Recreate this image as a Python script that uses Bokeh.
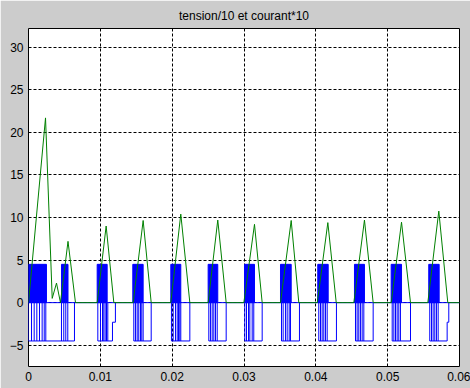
from bokeh.plotting import figure
from bokeh.models import Range1d, FixedTicker
from bokeh.embed import file_html
from bokeh.resources import INLINE

# Voltage / 10 (green): piecewise-linear through the turning points
green_t = [0, 0.00237, 0.0033, 0.0039, 0.00445, 0.0055, 0.00654,
           0.00956, 0.01081, 0.01188, 0.01457, 0.01596, 0.01708,
           0.01981, 0.0212, 0.02246, 0.02501, 0.02635, 0.02752,
           0.02998, 0.03146, 0.03253, 0.03508, 0.03657, 0.03763,
           0.0402, 0.04167, 0.04284, 0.04529, 0.04677, 0.04798,
           0.05049, 0.05193, 0.05318, 0.05559, 0.05712, 0.05837, 0.06]
green_v = [0, 21.7, 0.5, 2.3, 0, 7.2, 0,
           0, 9.0, 0, 0, 9.65, 0,
           0, 10.4, 0, 0, 9.7, 0,
           0, 9.2, 0, 0, 9.65, 0,
           0, 9.4, 0, 0, 9.7, 0,
           0, 9.45, 0, 0, 10.75, 0, 0]

# Current * 10 (blue): switching levels
i_high = 4.5
i_low = -4.5
i_step = -2.3

# dense switching bursts between 0 and +4.5
burst_start = [0, 0.0046, 0.00956, 0.01452, 0.01981, 0.02501, 0.03007,
               0.03508, 0.04027, 0.04538, 0.05049, 0.05572]
burst_end = [0.0025, 0.0055, 0.01095, 0.01596, 0.0212, 0.02635, 0.03146,
             0.03657, 0.04172, 0.04677, 0.05193, 0.05717]

# negative conduction intervals at -4.5
low_start = [0, 0.00965, 0.01466, 0.0199, 0.0251, 0.03011, 0.03522,
             0.04041, 0.04552, 0.05063, 0.05586]
low_end = [0.0064, 0.01169, 0.01708, 0.02246, 0.02752, 0.03253, 0.03772,
           0.04287, 0.04798, 0.05318, 0.05828]

# short intermediate steps before returning to zero
step_start = [0.01169, 0.05828]
step_end = [0.0121, 0.05851]

# switching instants down to -4.5
spikes = [0, 0.00042, 0.00079, 0.00116, 0.00153, 0.0019, 0.00219, 0.00241,
          0.00459, 0.00491, 0.00519, 0.00547,
          0.00965, 0.01002, 0.0103, 0.01048, 0.01067, 0.01086, 0.01104,
          0.01466, 0.01489, 0.01513, 0.01535, 0.01559, 0.01577, 0.01596,
          0.0199, 0.02014, 0.02046, 0.0207, 0.02088, 0.02106, 0.0212,
          0.0251, 0.02533, 0.02557, 0.0258, 0.02603, 0.02627,
          0.03011, 0.03035, 0.03063, 0.03081, 0.03114, 0.03136,
          0.03522, 0.03545, 0.03577, 0.03601, 0.03629, 0.03647,
          0.04041, 0.04065, 0.04088, 0.04111, 0.04134, 0.04158,
          0.04552, 0.04575, 0.04598, 0.04621, 0.04645, 0.04668,
          0.05063, 0.05086, 0.05109, 0.05132, 0.05155, 0.05178,
          0.05586, 0.0561, 0.05633, 0.05656, 0.05679, 0.05703]

x_ticks = [0, 0.01, 0.02, 0.03, 0.04, 0.05, 0.06]
x_labels = ["0", "0.01", "0.02", "0.03", "0.04", "0.05", "0.06"]
y_ticks = [-5, 0, 5, 10, 15, 20, 25, 30]

BLUE = "#0000ff"
GREEN = "#008000"

p = figure(width=470, height=388,
           x_range=Range1d(0, 0.06), y_range=Range1d(-7.5, 32.2),
           output_backend="svg", toolbar_location=None,
           min_border_left=28, min_border_right=11,
           min_border_top=28, min_border_bottom=22,
           background_fill_color="white", border_fill_color="#cccccc",
           outline_line_color="black", outline_line_width=1)

p.title.text = "tension/10 et courant*10"
p.title.align = "center"
p.title.vertical_align = "middle"
p.title.text_font = "Liberation Sans"
p.title.text_font_size = "12px"
p.title.text_font_style = "normal"
p.title.text_color = "black"

for ax in (p.xaxis, p.yaxis):
    ax.axis_line_color = None
    ax.major_tick_in = 0
    ax.major_tick_out = 0
    ax.minor_tick_line_color = None
    ax.major_label_text_font = "Liberation Sans"
    ax.major_label_text_font_size = "12px"
    ax.major_label_text_color = "black"
    ax.major_label_standoff = 5

p.xaxis.ticker = FixedTicker(ticks=x_ticks)
p.xaxis.major_label_overrides = dict(zip(x_ticks, x_labels))
p.yaxis.ticker = FixedTicker(ticks=y_ticks)

for g in (p.xgrid, p.ygrid):
    g.grid_line_color = "black"
    g.grid_line_dash = "3 2"
    g.grid_line_width = 1
p.xgrid.ticker = FixedTicker(ticks=x_ticks)
p.ygrid.ticker = FixedTicker(ticks=y_ticks)

# current trace
p.segment(x0=[0], y0=[0], x1=[0.06], y1=[0], color=BLUE, line_width=1)
p.quad(left=burst_start, right=burst_end,
       bottom=[0] * len(burst_start), top=[i_high] * len(burst_start),
       fill_color=BLUE, line_color=BLUE, line_width=1)
p.segment(x0=spikes, y0=[0] * len(spikes), x1=spikes, y1=[i_low] * len(spikes),
          color=BLUE, line_width=1)
p.segment(x0=low_start, y0=[i_low] * len(low_start),
          x1=low_end, y1=[i_low] * len(low_end), color=BLUE, line_width=1)
# return to zero at the end of each interval (via the intermediate step if any)
ret_top = [i_step if t in step_start else 0 for t in low_end]
p.segment(x0=low_end, y0=[i_low] * len(low_end), x1=low_end, y1=ret_top,
          color=BLUE, line_width=1)
p.segment(x0=step_start, y0=[i_step] * len(step_start),
          x1=step_end, y1=[i_step] * len(step_end), color=BLUE, line_width=1)
p.segment(x0=step_end, y0=[i_step] * len(step_end),
          x1=step_end, y1=[0] * len(step_end), color=BLUE, line_width=1)

# voltage trace
p.line(green_t, green_v, color=GREEN, line_width=1)

open("out.html", "w").write(file_html(p, INLINE))
